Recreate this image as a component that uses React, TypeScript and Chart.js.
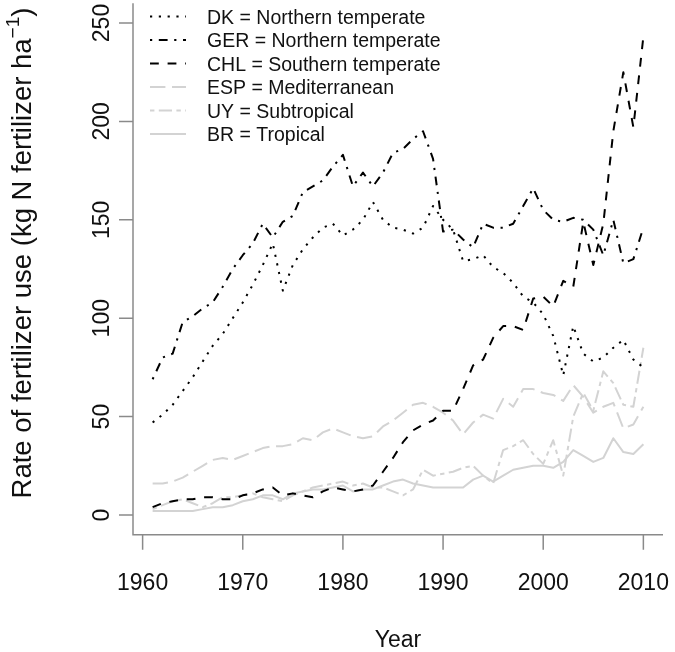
import React, { useEffect, useRef } from "react";
import { Chart, registerables } from "chart.js";

Chart.register(...registerables);

const years = [
  1961, 1962, 1963, 1964, 1965, 1966, 1967, 1968, 1969, 1970,
  1971, 1972, 1973, 1974, 1975, 1976, 1977, 1978, 1979, 1980,
  1981, 1982, 1983, 1984, 1985, 1986, 1987, 1988, 1989, 1990,
  1991, 1992, 1993, 1994, 1995, 1996, 1997, 1998, 1999, 2000,
  2001, 2002, 2003, 2004, 2005, 2006, 2007, 2008, 2009, 2010,
];

const dk = [
  47, 51, 56, 63, 70, 78, 86, 92, 100, 108,
  117, 127, 138, 114, 127, 135, 141, 146, 148, 142,
  145, 150, 159, 150, 146, 145, 143, 146, 157, 150,
  145, 129, 130, 132, 126, 123, 118, 111, 108, 102,
  91, 71, 96, 82, 78, 80, 85, 89, 79, 75,
];

const ger = [
  69, 80, 82, 98, 101, 105, 108, 116, 125, 132,
  138, 148, 141, 149, 152, 164, 167, 170, 177, 183,
  167, 174, 167, 174, 184, 186, 191, 195, 181, 144,
  145, 140, 136, 148, 146, 146, 148, 157, 166, 155,
  150, 149, 151, 150, 145, 132, 150, 128, 130, 146,
];

const chl = [
  4, 6, 7, 8, 8, 9, 9, 8, 8, 10,
  11, 13, 14, 10, 11, 10, 9, 12, 14, 13,
  12, 13, 15, 22, 29, 37, 43, 46, 48, 53,
  53, 64, 76, 79, 90, 96, 96, 94, 110, 111,
  106, 119, 116, 149, 127, 148, 195, 225, 197, 243,
];

const esp = [
  16, 16, 17, 19, 22, 25, 28, 29, 28, 30,
  32, 34, 35, 35, 36, 39, 38, 42, 44, 42,
  40, 39, 40, 45, 48, 52, 56, 57, 55, 52,
  48, 41, 47, 51, 49, 59, 55, 64, 64, 62,
  61, 58, 66, 60, 52, 55, 57, 44, 46, 55,
];

const uy = [
  3, 5, 7, 8, 6, 4, 6, 9, 9, 10,
  11, 9, 8, 7, 10, 12, 14, 15, 16, 17,
  15, 16, 14, 14, 12, 10, 13, 23, 20, 21,
  22, 24, 25, 20, 16, 33, 35, 38, 31, 26,
  38, 20, 50, 62, 53, 73, 67, 56, 55, 85,
];

const br = [
  2, 2, 2, 2, 2, 3, 4, 4, 5, 7,
  8, 10, 10, 8, 11, 12, 13, 13, 14, 15,
  12, 13, 13, 15, 17, 18, 16, 15, 14, 14,
  14, 14, 18, 20, 17, 20, 23, 24, 25, 25,
  24, 27, 33, 30, 27, 29, 39, 32, 31, 36,
];

const xTicks = [1960, 1970, 1980, 1990, 2000, 2010];
const yTicks = [0, 50, 100, 150, 200, 250];

const legendLabels = [
  "DK = Northern temperate",
  "GER = Northern temperate",
  "CHL = Southern temperate",
  "ESP = Mediterranean",
  "UY = Subtropical",
  "BR = Tropical",
];

const xTitle = "Year";
const yTitleMain = "Rate of fertilizer use (kg N fertilizer ha";
const yTitleSup = "\u22121";
const yTitleEnd = ")";

const FONT = '"Liberation Sans", Arial, Helvetica, sans-serif';
const BLACK = "#000000";
const GRAY = "#d3d3d3";
const U = 2.2;

const seriesStyles = [
  { color: BLACK, dash: [1 * U, 3 * U] },
  { color: BLACK, dash: [1 * U, 3 * U, 4 * U, 3 * U] },
  { color: BLACK, dash: [4 * U, 4 * U] },
  { color: GRAY, dash: [7 * U, 3 * U] },
  { color: GRAY, dash: [2 * U, 2 * U, 6 * U, 2 * U] },
  { color: GRAY, dash: [] as number[] },
];

const seriesValues = [dk, ger, chl, esp, uy, br];

const rAxesPlugin = {
  id: "rAxes",
  afterDraw(chart: any) {
    const { ctx, chartArea: a, scales } = chart;
    const x = scales.x;
    const y = scales.y;
    ctx.save();

    // L-shaped box
    ctx.strokeStyle = "#8a8a8a";
    ctx.lineWidth = 1.5;
    ctx.setLineDash([]);
    ctx.beginPath();
    ctx.moveTo(a.left, a.top);
    ctx.lineTo(a.left, a.bottom);
    ctx.lineTo(a.right, a.bottom);
    ctx.stroke();

    // ticks
    ctx.beginPath();
    xTicks.forEach((t) => {
      const px = x.getPixelForValue(t);
      ctx.moveTo(px, a.bottom);
      ctx.lineTo(px, a.bottom + 15);
    });
    yTicks.forEach((t) => {
      const py = y.getPixelForValue(t);
      ctx.moveTo(a.left, py);
      ctx.lineTo(a.left - 14, py);
    });
    ctx.stroke();

    ctx.fillStyle = "#111111";
    ctx.font = `23px ${FONT}`;
    ctx.textAlign = "center";
    ctx.textBaseline = "alphabetic";
    xTicks.forEach((t) => {
      const px = x.getPixelForValue(t);
      ctx.fillText(String(t), px, 590);
    });
    yTicks.forEach((t) => {
      const py = y.getPixelForValue(t);
      ctx.save();
      ctx.translate(109, py);
      ctx.rotate(-Math.PI / 2);
      ctx.fillText(String(t), 0, 0);
      ctx.restore();
    });

    // x title
    ctx.fillText(xTitle, (a.left + a.right) / 2, 647);

    // y title with superscript
    const cy = 253;
    ctx.save();
    ctx.translate(31, cy);
    ctx.rotate(-Math.PI / 2);
    ctx.textAlign = "left";
    const mainSize = 27.5;
    const supSize = 19;
    ctx.font = `${mainSize}px ${FONT}`;
    const w1 = ctx.measureText(yTitleMain).width;
    const w3 = ctx.measureText(yTitleEnd).width;
    ctx.font = `${supSize}px ${FONT}`;
    const w2 = ctx.measureText(yTitleSup).width;
    const total = w1 + w2 + w3;
    let sx = -total / 2;
    ctx.font = `${mainSize}px ${FONT}`;
    ctx.fillText(yTitleMain, sx, 0);
    sx += w1;
    ctx.font = `${supSize}px ${FONT}`;
    ctx.fillText(yTitleSup, sx, -12);
    sx += w2;
    ctx.font = `${mainSize}px ${FONT}`;
    ctx.fillText(yTitleEnd, sx, 0);
    ctx.restore();

    // legend
    ctx.font = `19.5px ${FONT}`;
    ctx.textAlign = "left";
    legendLabels.forEach((label, i) => {
      const cyRow = 16.5 + i * 23.5;
      const st = seriesStyles[i];
      ctx.strokeStyle = st.color;
      ctx.lineWidth = 2;
      ctx.setLineDash(st.dash);
      ctx.lineDashOffset = 0;
      ctx.beginPath();
      ctx.moveTo(150, cyRow);
      ctx.lineTo(186, cyRow);
      ctx.stroke();
      ctx.setLineDash([]);
      ctx.fillStyle = "#111111";
      ctx.fillText(label, 207, cyRow + 7);
    });

    ctx.restore();
  },
};

export default function App() {
  const canvasRef = useRef<HTMLCanvasElement | null>(null);

  useEffect(() => {
    const canvas = canvasRef.current;
    if (!canvas) return;
    const datasets = seriesValues.map((vals, i) => ({
      label: legendLabels[i],
      data: vals.map((v, j) => ({ x: years[j], y: v })),
      borderColor: seriesStyles[i].color,
      backgroundColor: seriesStyles[i].color,
      borderWidth: 2,
      borderDash: seriesStyles[i].dash,
      borderCapStyle: "butt" as const,
      borderJoinStyle: "round" as const,
      pointRadius: 0,
      tension: 0,
      fill: false,
    }));

    const chart = new Chart(canvas, {
      type: "line",
      data: { datasets },
      options: {
        responsive: false,
        animation: false,
        layout: { padding: { left: 133, right: 12, top: 3.3, bottom: 117.3 } },
        plugins: {
          legend: { display: false },
          tooltip: { enabled: false },
        },
        scales: {
          x: { type: "linear", min: 1959.04, max: 2011.96, display: false },
          y: { type: "linear", min: -10, max: 260, display: false },
        },
      },
      plugins: [rAxesPlugin],
    });
    return () => chart.destroy();
  }, []);

  return (
    <div style={{ position: "absolute", left: 0, top: 0, width: 675, height: 652, background: "#ffffff" }}>
      <canvas ref={canvasRef} width={675} height={652} style={{ width: 675, height: 652 }} />
    </div>
  );
}
